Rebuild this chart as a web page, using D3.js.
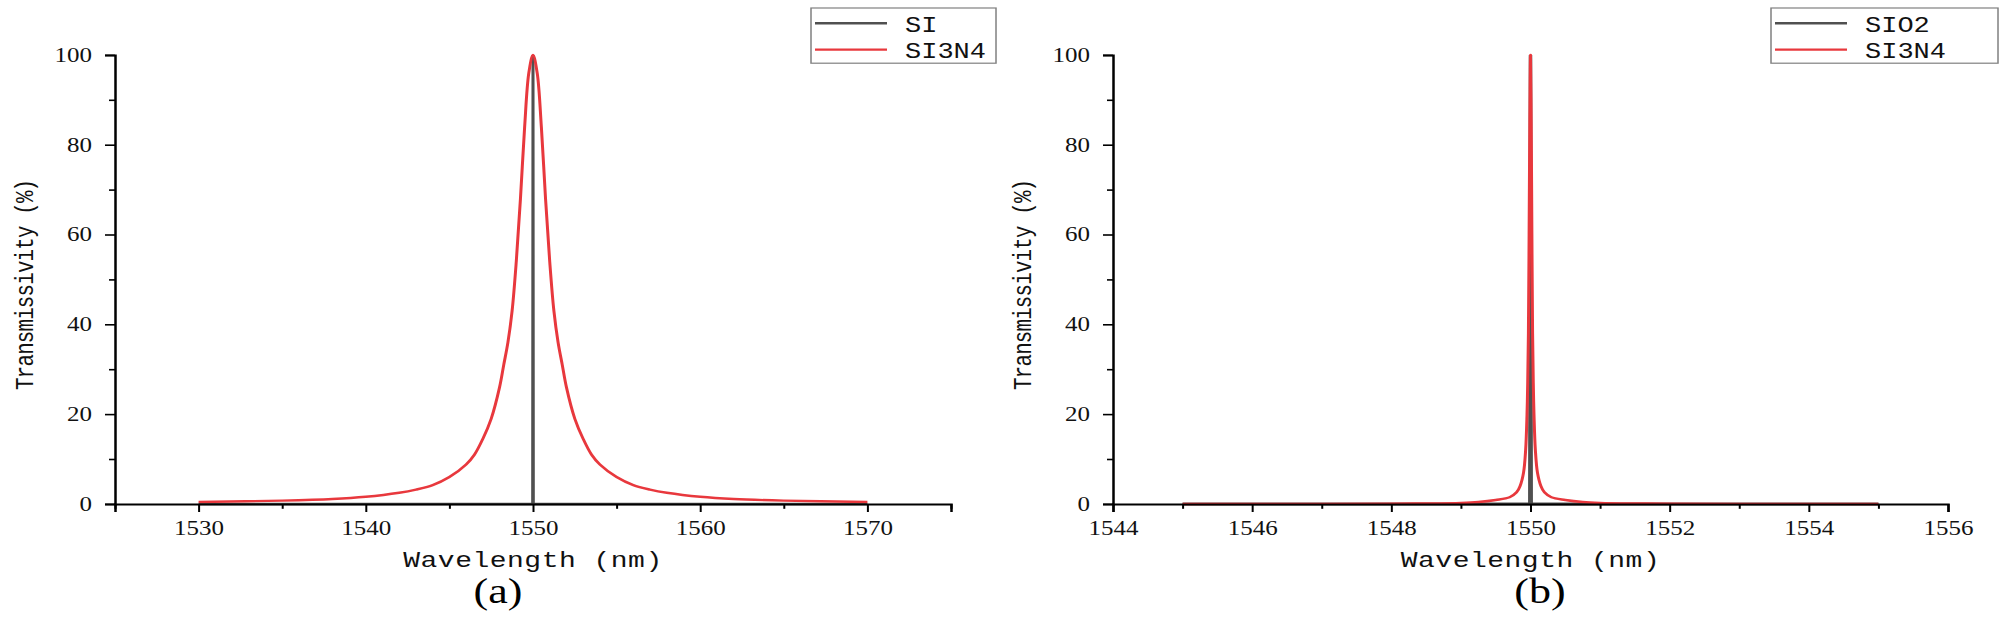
<!DOCTYPE html>
<html>
<head>
<meta charset="utf-8">
<script src="https://cdn.jsdelivr.net/npm/d3@7"></script>
<style>
  html, body { margin: 0; padding: 0; background: #fff; }
  svg { display: block; }
</style>
</head>
<body>
<div id="chart"></div>
<script>
// ---- data ----
// panel (a)
const aSiWl   = [1530, 1549.98, 1549.99, 1550, 1550.01, 1550.02, 1570];
const aSiT    = [0, 0, 50, 100, 50, 0, 0];
const aSinWl  = [1530, 1535, 1538, 1540, 1542, 1543, 1544, 1545, 1546, 1546.5, 1547, 1547.5, 1548, 1548.25, 1548.5, 1548.75, 1549, 1549.25, 1549.5, 1549.75, 1550,
                 1550.25, 1550.5, 1550.75, 1551, 1551.25, 1551.5, 1551.75, 1552, 1552.5, 1553, 1553.5, 1554, 1555, 1556, 1557, 1558, 1560, 1562, 1565, 1570];
const aSinT   = [0.45, 0.75, 1.1, 1.6, 2.5, 3.2, 4.2, 6.0, 8.8, 11, 14.5, 19, 26, 31, 36, 43, 54, 68, 84, 96, 100,
                 96, 84, 68, 54, 43, 36, 31, 26, 19, 14.5, 11, 8.8, 6.0, 4.2, 3.2, 2.5, 1.6, 1.1, 0.75, 0.45];
const aXTicks = [1530, 1540, 1550, 1560, 1570];

// panel (b)
const bSioWl  = [1545, 1549.99, 1550, 1550.01, 1555];
const bSioT   = [0, 0, 100, 0, 0];
const bSinWl  = [1545, 1547, 1548, 1548.5, 1549, 1549.25, 1549.5, 1549.7, 1549.8, 1549.85, 1549.9, 1549.93, 1549.95, 1549.96, 1549.97, 1549.98, 1549.99, 1550,
                 1550.01, 1550.02, 1550.03, 1550.04, 1550.05, 1550.07, 1550.1, 1550.15, 1550.2, 1550.3, 1550.5, 1550.75, 1551, 1551.5, 1552, 1553, 1555];
const bSinT   = [0.01, 0.03, 0.07, 0.12, 0.25, 0.45, 0.9, 1.5, 2.6, 4, 7, 12, 20, 27, 38, 60, 85, 100,
                 85, 60, 38, 27, 20, 12, 7, 4, 2.6, 1.5, 0.9, 0.45, 0.25, 0.12, 0.07, 0.03, 0.01];
const bXTicks = [1544, 1546, 1548, 1550, 1552, 1554, 1556];

const yTicks = [0, 20, 40, 60, 80, 100];

// the reference looks squashed vertically, so draw tall and squeeze
const W = 2000, H = 643, SQ = 0.8;
const VH = H / SQ;

const svg = d3.select("#chart").append("svg")
  .attr("width", W).attr("height", H)
  .attr("viewBox", `0 0 ${W} ${VH}`)
  .attr("preserveAspectRatio", "none");

const zip = (xs, ys) => xs.map((x, i) => ({ x: x, y: ys[i] }));

function drawPanel(p) {
  const x = d3.scaleLinear().domain(p.xDomain).range([p.left, p.right]);
  const y = d3.scaleLinear().domain([0, 100]).range([630, 68.75]);

  const g = svg.append("g");

  const line = d3.line().x(d => x(d.x)).y(d => y(d.y));

  // black series first, red on top
  g.append("path")
    .datum(zip(p.blackWl, p.blackT))
    .attr("fill", "none").attr("stroke", "#505050")
    .attr("stroke-width", p.blackWidth)
    .attr("d", line);
  g.append("path")
    .datum(zip(p.redWl, p.redT))
    .attr("fill", "none").attr("stroke", "#e8383d")
    .attr("stroke-width", 3).attr("stroke-linejoin", "round")
    .attr("d", line.curve(d3.curveCatmullRom.alpha(0.5)));

  // minor ticks
  const xMinor = d3.range(p.xDomain[0], p.xDomain[1] + 1e-9, p.minorStep)
    .filter(v => !p.xTicks.includes(+v.toFixed(3)));
  g.append("g")
    .attr("transform", `translate(0,630)`)
    .call(d3.axisBottom(x).tickValues(xMinor).tickSize(6).tickFormat(""))
    .call(a => a.select(".domain").remove())
    .selectAll("line").attr("stroke-width", 2);
  g.append("g")
    .attr("transform", `translate(${p.left},0)`)
    .call(d3.axisLeft(y).tickValues([10, 30, 50, 70, 90]).tickSize(6).tickFormat(""))
    .call(a => a.select(".domain").remove())
    .selectAll("line").attr("stroke-width", 2);

  // major axes
  const xa = g.append("g")
    .attr("transform", `translate(0,630)`)
    .call(d3.axisBottom(x).tickValues(p.xTicks).tickSizeOuter(0).tickSize(10).tickPadding(11).tickFormat(d3.format("d")));
  const ya = g.append("g")
    .attr("transform", `translate(${p.left},0)`)
    .call(d3.axisLeft(y).tickValues(yTicks).tickSizeOuter(0).tickSize(10).tickPadding(13));
  [xa, ya].forEach(a => {
    a.select(".domain").attr("stroke-width", 2.5);
    a.selectAll("line").attr("stroke-width", 2);
    a.selectAll("text")
      .attr("font-family", "Liberation Serif, serif")
      .attr("font-size", 25).attr("fill", "#111");
  });

  // axis titles
  g.append("text")
    .attr("x", (p.left + p.right) / 2).attr("y", 709)
    .attr("text-anchor", "middle")
    .attr("font-family", "Liberation Mono, monospace")
    .attr("font-size", 28).attr("letter-spacing", 0.5)
    .attr("fill", "#111")
    .text("Wavelength (nm)");
  g.append("text")
    .attr("transform", `translate(${p.left - 82},356) rotate(-90)`)
    .attr("text-anchor", "middle")
    .attr("font-family", "Liberation Mono, monospace")
    .attr("font-size", 26).attr("letter-spacing", -1)
    .attr("fill", "#111")
    .text("Transmissivity (%)");

  // panel tag
  g.append("text")
    .attr("x", p.tagX).attr("y", 754)
    .attr("text-anchor", "middle")
    .attr("font-family", "Liberation Serif, serif")
    .attr("font-size", 44).attr("fill", "#000")
    .text(p.tag);

  // legend
  const lg = g.append("g").attr("transform", `translate(${p.legX},10)`);
  lg.append("rect")
    .attr("width", p.legW).attr("height", 69)
    .attr("fill", "#fff").attr("stroke", "#808080").attr("stroke-width", 1.5);
  p.names.forEach((n, i) => {
    const cy = i === 0 ? 19 : 52;
    lg.append("line")
      .attr("x1", 4).attr("x2", 76).attr("y1", cy).attr("y2", cy)
      .attr("stroke", i === 0 ? "#505050" : "#e8383d").attr("stroke-width", 3);
    lg.append("text")
      .attr("x", 94).attr("y", cy + 11)
      .attr("font-family", "Liberation Mono, monospace")
      .attr("font-size", 27).attr("fill", "#111")
      .text(n);
  });
}

drawPanel({
  xDomain: [1525, 1575], left: 115, right: 951, minorStep: 5, xTicks: aXTicks,
  blackWl: aSiWl, blackT: aSiT, blackWidth: 3,
  redWl: aSinWl, redT: aSinT,
  tag: "(a)", tagX: 498,
  legX: 811, legW: 185, names: ["SI", "SI3N4"]
});

drawPanel({
  xDomain: [1544, 1556], left: 1113, right: 1948, minorStep: 1, xTicks: bXTicks,
  blackWl: bSioWl, blackT: bSioT, blackWidth: 3.5,
  redWl: bSinWl, redT: bSinT,
  tag: "(b)", tagX: 1540,
  legX: 1771, legW: 227, names: ["SIO2", "SI3N4"]
});
</script>
</body>
</html>
